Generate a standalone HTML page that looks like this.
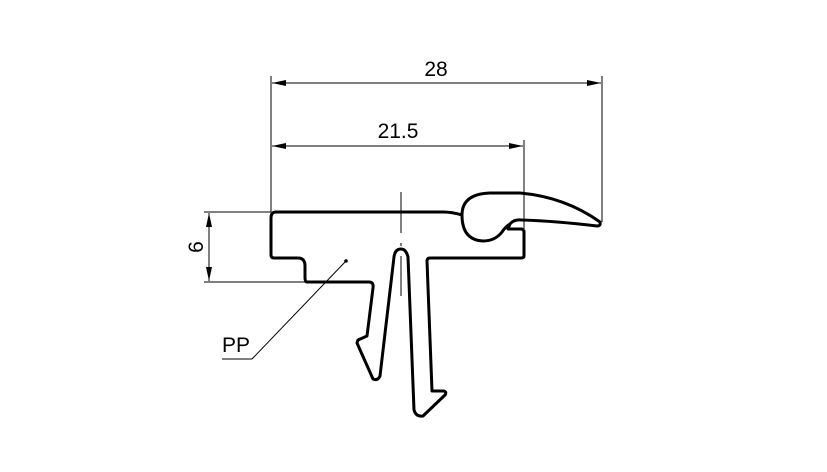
<!DOCTYPE html>
<html><head><style>html,body{margin:0;padding:0;background:#fff;}svg{display:block}</style></head>
<body>
<svg width="827" height="472" viewBox="0 0 827 472" xmlns="http://www.w3.org/2000/svg">
<defs>
<marker id="a" viewBox="0 0 14 6" refX="14" refY="3" markerWidth="14" markerHeight="6" orient="auto-start-reverse" markerUnits="userSpaceOnUse"><path d="M0,0 L14,3 L0,6 z" fill="#000"/></marker>
</defs>
<g stroke="#000" stroke-width="1" fill="none">
<line x1="271" y1="76" x2="271" y2="212"/>
<line x1="602" y1="76" x2="602" y2="222"/>
<line x1="524" y1="140" x2="524" y2="230"/>
<line x1="272" y1="83" x2="601" y2="83" marker-start="url(#a)" marker-end="url(#a)"/>
<line x1="272" y1="146" x2="523" y2="146" marker-start="url(#a)" marker-end="url(#a)"/>
<line x1="204" y1="212" x2="271" y2="212"/>
<line x1="204" y1="282" x2="306" y2="282"/>
<line x1="209" y1="213" x2="209" y2="281" marker-start="url(#a)" marker-end="url(#a)"/>
<polyline points="346,261 252,359 222,359"/>
<line x1="401" y1="192" x2="401" y2="233"/>
<line x1="401" y1="243" x2="401" y2="246"/>
<line x1="401" y1="256" x2="401" y2="296"/>
</g>
<circle cx="346" cy="261" r="1.8" fill="#000"/>
<path fill="none" stroke="#000" stroke-width="3" stroke-linejoin="round" d="
M276,212 L443,212 Q452,212 462,215
Q462,194 490,193 L520,193 Q565,197 600,222 Q601,226 597,226 Q555,221 522,220 Q514,219 510,224 L508,229
L522,229 L524,231 L524,256 Q524,258 521,258 L430,258 Q427,258 427,261 L432,391 L444,391 Q447,392 445,395 L423,416 Q416,417 414,410 L408,257 Q406,249 401,249 Q395,249 394,257 L380,376 Q378,381 373,379 L357,343 L358,340 L367,336 L373,288 Q374,282 369,282 L307,282 Q305,282 305,277 L305,266 Q305,258 298,258 L274,258 Q271,258 271,255 L271,218 Q271,212 276,212 Z"/>
<path fill="none" stroke="#000" stroke-width="3" d="M462,215 Q462,240 483,241 Q495,241 502,232 Q506,226 510,224"/>
<g font-family="Liberation Sans, sans-serif" font-size="21" fill="#000">
<text x="436" y="76" text-anchor="middle">28</text>
<text x="398" y="138" text-anchor="middle">21.5</text>
<text x="222" y="352">PP</text>
<text transform="translate(203,247) rotate(-90)" text-anchor="middle">6</text>
</g>
</svg>
</body></html>
